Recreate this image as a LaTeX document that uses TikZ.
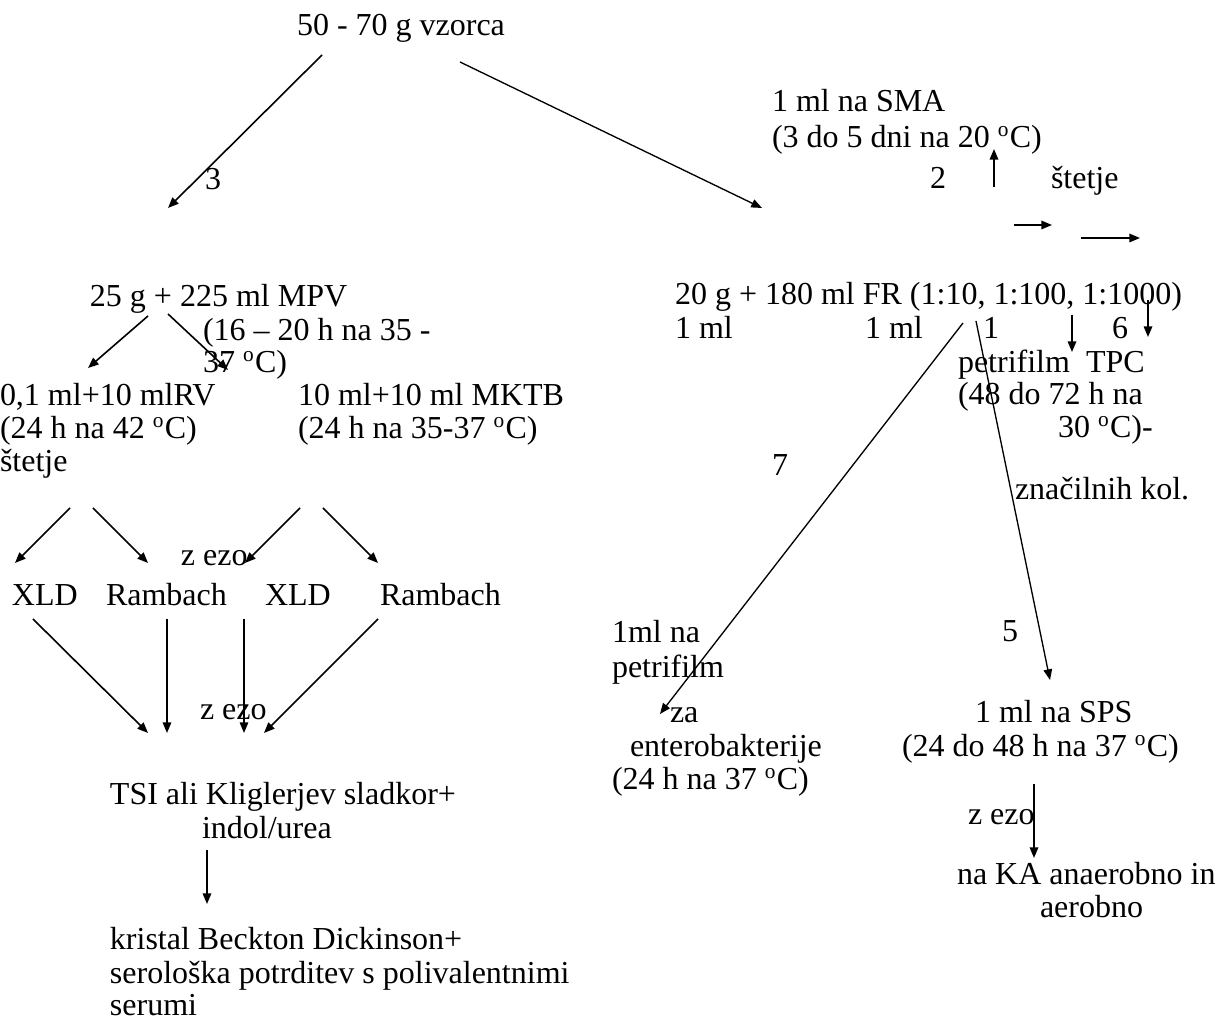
\documentclass[tikz,border=0pt]{standalone}
\usepackage{fontspec}
\setmainfont{Liberation Serif}
\usetikzlibrary{arrows.meta}
\newcommand\dgC{\textsuperscript{o}C}
\begin{document}
\begin{tikzpicture}[x=0.375pt,y=-0.375pt,
  font=\fontsize{12}{13.8}\selectfont,
  txt/.style={anchor=base west, inner sep=0pt, outer sep=0pt},
  arr/.style={-{Triangle[length=4pt,width=3.2pt]}, line width=0.6pt},
  thinarr/.style={-{Triangle[length=4pt,width=3.2pt]}, line width=0.5pt}]
\useasboundingbox (0,0) rectangle (1227,1021);

% ---------- top ----------
\node[txt] (sample) at (297,36) {50 - 70 g vzorca};
\coordinate (sampleL) at (322,55);
\coordinate (sampleR) at (460,62);
\coordinate (leftEnd) at (168,208);
\coordinate (rightEnd) at (762,208);
\draw[arr] (sampleL) -- (leftEnd);
\draw[thinarr] (sampleR) -- (rightEnd);
\node[txt] (n3) at (205,190) {3};

% ---------- right branch, top ----------
\node[txt] (sma1) at (772,112) {1 ml na SMA};
\node[txt] (sma2) at (772,148) {(3 do 5 dni na 20 \dgC)};
\node[txt] (n2) at (930,189) {2};
\node[txt] (count1) at (1051,189) {štetje};
\coordinate (upS) at (994,187);
\coordinate (upE) at (994,149);
\draw[arr] (upS) -- (upE);
\coordinate (r1s) at (1014,225);
\coordinate (r1e) at (1052,225);
\coordinate (r2s) at (1081,238);
\coordinate (r2e) at (1140,238);
\draw[arr] (r1s) -- (r1e);
\draw[arr] (r2s) -- (r2e);

\node[txt] (fr) at (675,305) {20 g + 180 ml FR (1:10, 1:100, 1:1000)};
\node[txt] (ml1) at (675,339) {1 ml};
\node[txt] (ml2) at (865,339) {1 ml};
\node[txt] (one) at (983,339) {1};
\node[txt] (n6) at (1112,339) {6};
\coordinate (d1s) at (1072,315);
\coordinate (d1e) at (1072,352);
\coordinate (d2s) at (1148,300);
\coordinate (d2e) at (1148,337);
\draw[arr] (d1s) -- (d1e);
\draw[arr] (d2s) -- (d2e);

\node[txt] (tpc1) at (958,373) {petrifilm\ \ TPC};
\node[txt] (tpc2) at (958,405) {(48 do 72 h na};
\node[txt] (tpc3) at (1058,438) {30 \dgC)-};
\node[txt] (kol) at (1015,500) {značilnih kol.};

\coordinate (l7s) at (963,323);
\coordinate (l7e) at (660,714);
\coordinate (l5s) at (976,321);
\coordinate (l5e) at (1050,680);
\draw[thinarr] (l7s) -- (l7e);
\draw[thinarr] (l5s) -- (l5e);
\node[txt] (n7) at (772,476) {7};
\node[txt] (n5) at (1002,642) {5};

\node[txt] (ent1) at (612,643) {1ml na};
\node[txt] (ent2) at (612,678) {petrifilm};
\node[txt] (ent3) at (670,723) {za};
\node[txt] (ent4) at (630,757) {enterobakterije};
\node[txt] (ent5) at (612,790) {(24 h na 37 \dgC)};

\node[txt] (sps1) at (975,723) {1 ml na SPS};
\node[txt] (sps2) at (902,757) {(24 do 48 h na 37 \dgC)};
\coordinate (kaS) at (1034,784);
\coordinate (kaE) at (1034,858);
\draw[arr] (kaS) -- (kaE);
\node[txt] (eze3) at (968,825) {z ezo};
\node[txt] (ka1) at (957,885) {na KA anaerobno in};
\node[txt] (ka2) at (1040,918) {aerobno};

% ---------- left branch ----------
\node[txt] (mpv1) at (90,307) {25 g + 225 ml MPV};
\node[txt] (mpv2) at (203,341) {(16 – 20 h na 35 -};
\node[txt] (mpv3) at (203,373) {37 \dgC)};
\coordinate (m1s) at (148,316);
\coordinate (m1e) at (88,368);
\coordinate (m2s) at (168,314);
\coordinate (m2e) at (228,370);
\draw[arr] (m1s) -- (m1e);
\draw[arr] (m2s) -- (m2e);

\node[txt] (rv1) at (0,406) {0,1 ml+10 mlRV};
\node[txt] (rv2) at (0,439) {(24 h na 42 \dgC)};
\node[txt] (rv3) at (0,472) {štetje};
\node[txt] (mk1) at (298,406) {10 ml+10 ml MKTB};
\node[txt] (mk2) at (298,439) {(24 h na 35-37 \dgC)};

\coordinate (a1s) at (70,508);
\coordinate (a1e) at (15,563);
\coordinate (a2s) at (93,508);
\coordinate (a2e) at (148,563);
\coordinate (a3s) at (300,508);
\coordinate (a3e) at (245,563);
\coordinate (a4s) at (323,508);
\coordinate (a4e) at (378,563);
\draw[arr] (a1s) -- (a1e);
\draw[arr] (a2s) -- (a2e);
\draw[arr] (a3s) -- (a3e);
\draw[arr] (a4s) -- (a4e);
\node[txt] (eze1) at (181,566) {z ezo};

\node[txt] (xld1) at (12,606) {XLD};
\node[txt] (ram1) at (106,606) {Rambach};
\node[txt] (xld2) at (265,606) {XLD};
\node[txt] (ram2) at (380,606) {Rambach};

\coordinate (b1s) at (33,619);
\coordinate (b1e) at (148,733);
\coordinate (b2s) at (167,619);
\coordinate (b2e) at (167,733);
\coordinate (b3s) at (244,619);
\coordinate (b3e) at (244,733);
\coordinate (b4s) at (378,619);
\coordinate (b4e) at (264,733);
\draw[arr] (b1s) -- (b1e);
\draw[arr] (b2s) -- (b2e);
\draw[arr] (b3s) -- (b3e);
\draw[arr] (b4s) -- (b4e);
\node[txt] (eze2) at (200,720) {z ezo};

\node[txt] (tsi1) at (110,805) {TSI ali Kliglerjev sladkor+};
\node[txt] (tsi2) at (202,839) {indol/urea};
\coordinate (cs) at (207,850);
\coordinate (ce) at (207,904);
\draw[arr] (cs) -- (ce);

\node[txt] (kr1) at (110,950) {kristal Beckton Dickinson+};
\node[txt] (kr2) at (110,984) {serološka potrditev s polivalentnimi};
\node[txt] (kr3) at (110,1016) {serumi};
\end{tikzpicture}
\end{document}
